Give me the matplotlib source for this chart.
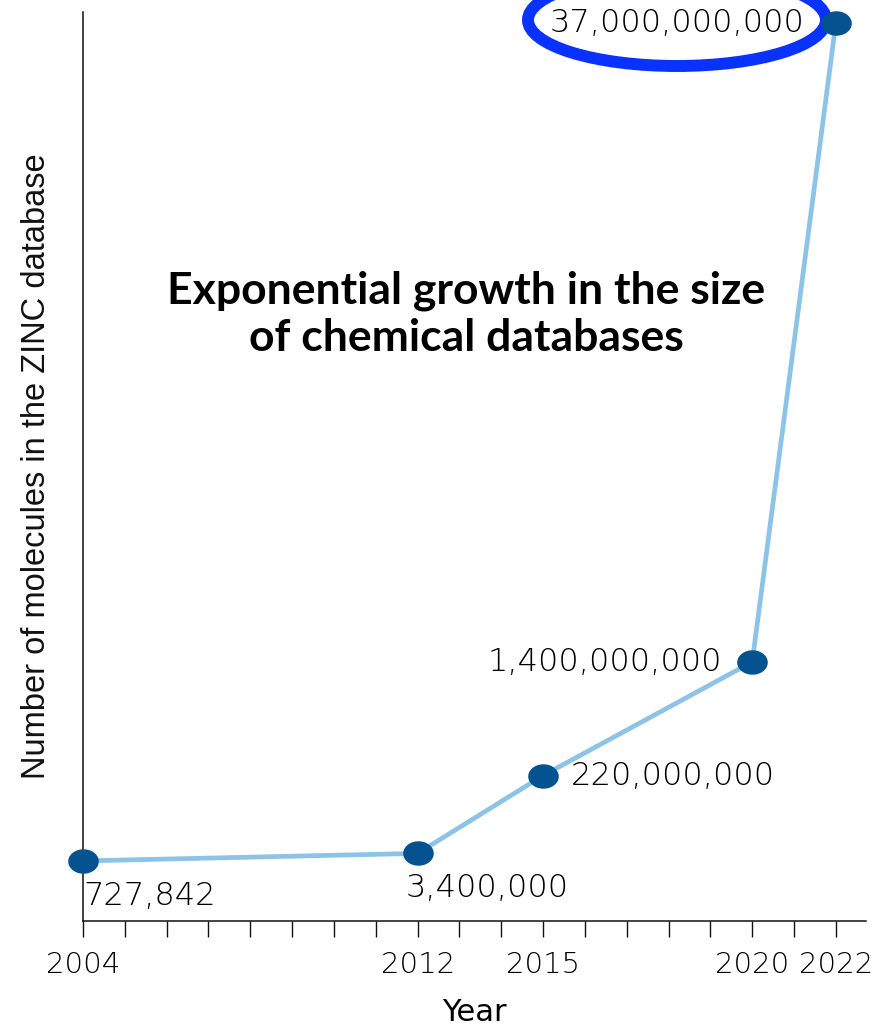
import numpy as np
import matplotlib
matplotlib.use("Agg")
import matplotlib.pyplot as plt
from matplotlib.path import Path
from matplotlib.patches import Ellipse

# ZINC database size over time
years = [2004, 2012, 2015, 2020, 2022]
molecules = [727842, 3400000, 220000000, 1400000000, 37000000000]
tick_years = [2004, 2012, 2015, 2020, 2022]

title = "Exponential growth in the size\nof chemical databases"
xlabel = "Year"
ylabel = "Number of molecules in the ZINC database"

LINE_COLOR = "#8cc3e6"
DOT_COLOR = "#04528f"
TEXT_COLOR = "#000000"
RING_COLOR = "#0a32ff"

W, H = 886, 1027
fig = plt.figure(figsize=(W / 100, H / 100), dpi=100)
ax = fig.add_axes([83 / W, 1 - 921 / H, (866 - 83) / W, (921 - 12) / H])

# compressive power scale so small and huge counts share one axis
P = 0.43


def fwd(v):
    v = np.asarray(v, dtype=float)
    return np.sign(v) * np.abs(v) ** P


def inv(t):
    t = np.asarray(t, dtype=float)
    return np.sign(t) * np.abs(t) ** (1 / P)


ax.set_yscale("function", functions=(fwd, inv))
ax.set_ylim(-5.65e7, 3.81e10)
ax.set_xlim(2004, 2022.72)

# elliptical dot marker
theta = np.linspace(0, 2 * np.pi, 80)
oval = Path(np.column_stack([np.cos(theta), 0.79 * np.sin(theta)]))

ax.plot(years, molecules, color=LINE_COLOR, lw=3.4, zorder=2,
        solid_capstyle="round")
ax.plot(years, molecules, linestyle="none", marker=oval, markersize=21,
        color=DOT_COLOR, zorder=3, clip_on=False)

num_font = dict(family=["DejaVu Sans"], fontsize=23, color=TEXT_COLOR,
                weight="light")
# label offsets in pixels and alignment for each point
placements = [
    ((0, -20), "left", "top"),
    ((-12, -20), "left", "top"),
    ((28, 0), "left", "center"),
    ((-30, 0), "right", "center"),
    ((-31, 0), "right", "center"),
]
for yr, val, (off, ha, va) in zip(years, molecules, placements):
    ax.annotate(f"{val:,}", (yr, val), xytext=off, textcoords="offset pixels",
                ha=ha, va=va, **num_font)

# highlight ring around the latest count
ring = Ellipse((677 / W, 1 - 20 / H), 298 / W, 92 / H, transform=fig.transFigure,
               fill=False, edgecolor=RING_COLOR, lw=8.6, clip_on=False, zorder=2.5)
ax.add_patch(ring)

# axes styling
for side in ("top", "right"):
    ax.spines[side].set_visible(False)
for side in ("left", "bottom"):
    ax.spines[side].set_linewidth(1.1)
    ax.spines[side].set_color("#111111")
ax.set_yticks([])
ax.set_xticks(tick_years)
ax.set_xticks(np.arange(2004, 2023), minor=True)
ax.tick_params(axis="x", which="both", direction="out", length=11.5, width=1.0,
               color="#111111")
ax.tick_params(axis="x", which="major", pad=10, labelsize=21,
               labelcolor=TEXT_COLOR)
for lbl in ax.get_xticklabels():
    lbl.set_family(["DejaVu Sans"])
    lbl.set_weight("light")

ax.set_xlabel(xlabel, fontsize=22, family=["DejaVu Sans"],
              color="#000000", labelpad=14)
ax.set_ylabel(ylabel, fontsize=23.5,
              family=["Liberation Sans", "DejaVu Sans"],
              color="#111111", labelpad=22)

fig.text(466 / W, 1 - 314 / H, title, ha="center", va="center",
         fontsize=32, weight="bold", family=["Lato", "DejaVu Sans"],
         linespacing=1.22, color="black")

fig.savefig("out.png", dpi=100)
